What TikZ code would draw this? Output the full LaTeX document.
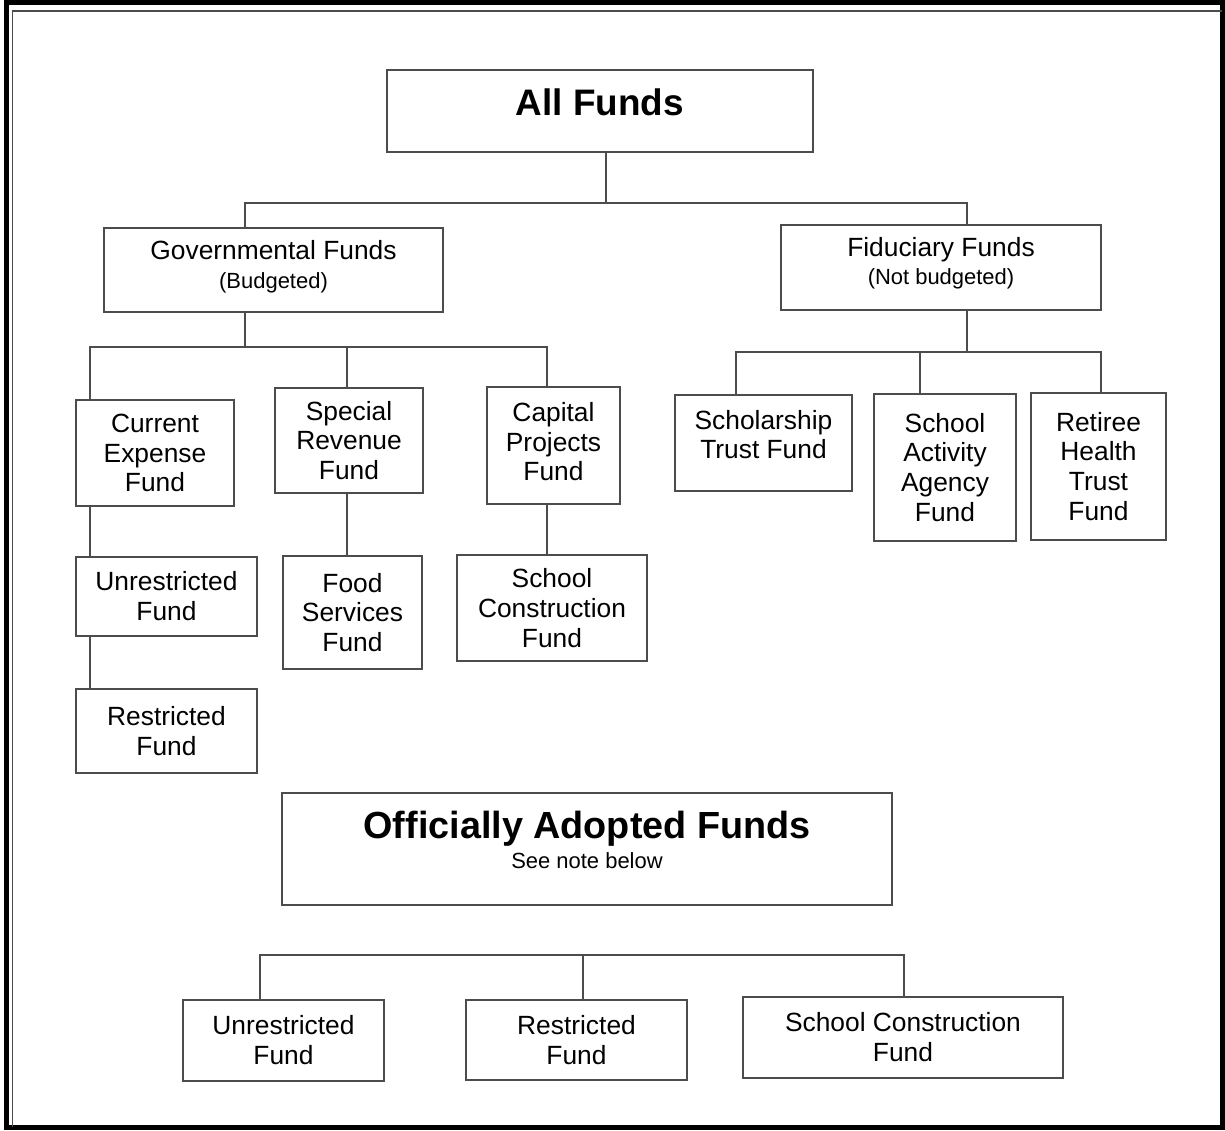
\documentclass[tikz,border=0pt]{standalone}
\usepackage{fontspec}
\setmainfont{Liberation Sans}
\newcommand{\subline}{\fontsize{12.5}{14}\selectfont}
\newcommand{\liftup}[1]{\rule[-#1]{0pt}{#1}}

\begin{document}
\begin{tikzpicture}[x=0.02cm, y=-0.02cm]
\useasboundingbox (0,0) rectangle (1225,1131);

% frame
\draw [line width=0.1cm] (6.5,2.5) rectangle (1222.5,1127.5);
\draw [line width=0.025cm, black!70] (12.5,1127) -- (12.5,11) -- (1222,11);

\begin{scope}[every node/.style={draw=black!70, line width=0.8pt, align=center, inner sep=0pt, font=\fontsize{15}{17}\selectfont}]
\node (all) [minimum width=8.52cm, minimum height=1.64cm, font=\bfseries\fontsize{21}{25}\selectfont] at (600,111) {All Funds\liftup{0.36cm}};
\node (gov) [minimum width=6.78cm, minimum height=1.68cm] at (273.5,270) {Governmental Funds\\[-1pt]{\subline (Budgeted)}\liftup{0.22cm}};
\node (fid) [minimum width=6.4cm, minimum height=1.7cm] at (941,267.5) {Fiduciary Funds\\[-1pt]{\subline (Not budgeted)}\liftup{0.26cm}};

\node (cur) [minimum width=3.16cm, minimum height=2.12cm] at (155,453) {Current\\Expense\\Fund};
\node (spec) [minimum width=2.96cm, minimum height=2.1cm] at (349,440.5) {Special\\Revenue\\Fund};
\node (cap) [minimum width=2.66cm, minimum height=2.34cm] at (553.5,445.5) {Capital\\Projects\\Fund\liftup{0.16cm}};
\node (unr) [minimum width=3.62cm, minimum height=1.58cm] at (166.5,596.5) {Unrestricted\\Fund};
\node (res) [minimum width=3.62cm, minimum height=1.68cm] at (166.5,731) {Restricted\\Fund};
\node (food) [minimum width=2.78cm, minimum height=2.26cm] at (352.5,612.5) {Food\\Services\\Fund};
\node (scon) [minimum width=3.8cm, minimum height=2.12cm] at (552,608) {School\\Construction\\Fund};

\node (schol) [minimum width=3.54cm, minimum height=1.92cm] at (763.5,443) {Scholarship\\Trust Fund\liftup{0.34cm}};
\node (act) [minimum width=2.84cm, minimum height=2.94cm] at (945,467.5) {School\\Activity\\Agency\\Fund};
\node (ret) [minimum width=2.7cm, minimum height=2.94cm] at (1098.5,466.5) {Retiree\\Health\\Trust\\Fund};

\node (off) [minimum width=12.2cm, minimum height=2.24cm] at (587,849) {{\bfseries\fontsize{21.5}{25}\selectfont Officially Adopted Funds}\\{\subline See note below}\liftup{0.36cm}};
\node (lunr) [minimum width=4.02cm, minimum height=1.62cm] at (283.5,1040.5) {Unrestricted\\Fund};
\node (lres) [minimum width=4.42cm, minimum height=1.6cm] at (576.5,1040) {Restricted\\Fund};
\node (lscon) [minimum width=6.4cm, minimum height=1.62cm] at (903,1037.5) {School Construction\\Fund};
\end{scope}

% bus points
\coordinate (top) at (606,203);
\coordinate (t1) at (245,203);
\coordinate (t2) at (967,203);
\coordinate (g0) at (245,347);
\coordinate (g1) at (90,347);
\coordinate (g2) at (347,347);
\coordinate (g3) at (547,347);
\coordinate (f0) at (967,352);
\coordinate (f1) at (736,352);
\coordinate (f2) at (920,352);
\coordinate (f3) at (1101,352);
\coordinate (b1) at (260,955);
\coordinate (b2) at (583,955);
\coordinate (b3) at (904,955);

\begin{scope}[draw=black!70, line width=0.8pt]
\draw (all.south -| top) -- (top);
\draw (gov.north -| t1) |- (t2) -- (fid.north -| t2);

\draw (gov.south -| g0) -- (g0);
\draw (cur.north -| g1) |- (g3) -- (cap.north -| g3);
\draw (g2) -- (spec.north -| g2);
\draw (cur.south -| g1) -- (unr.north -| g1);
\draw (unr.south -| g1) -- (res.north -| g1);
\draw (spec.south -| g2) -- (food.north -| g2);
\draw (cap.south -| g3) -- (scon.north -| g3);

\draw (fid.south -| f0) -- (f0);
\draw (schol.north -| f1) |- (f3) -- (ret.north -| f3);
\draw (f2) -- (act.north -| f2);

\draw (lunr.north -| b1) |- (b3) -- (lscon.north -| b3);
\draw (b2) -- (lres.north -| b2);
\end{scope}
\end{tikzpicture}
\end{document}
